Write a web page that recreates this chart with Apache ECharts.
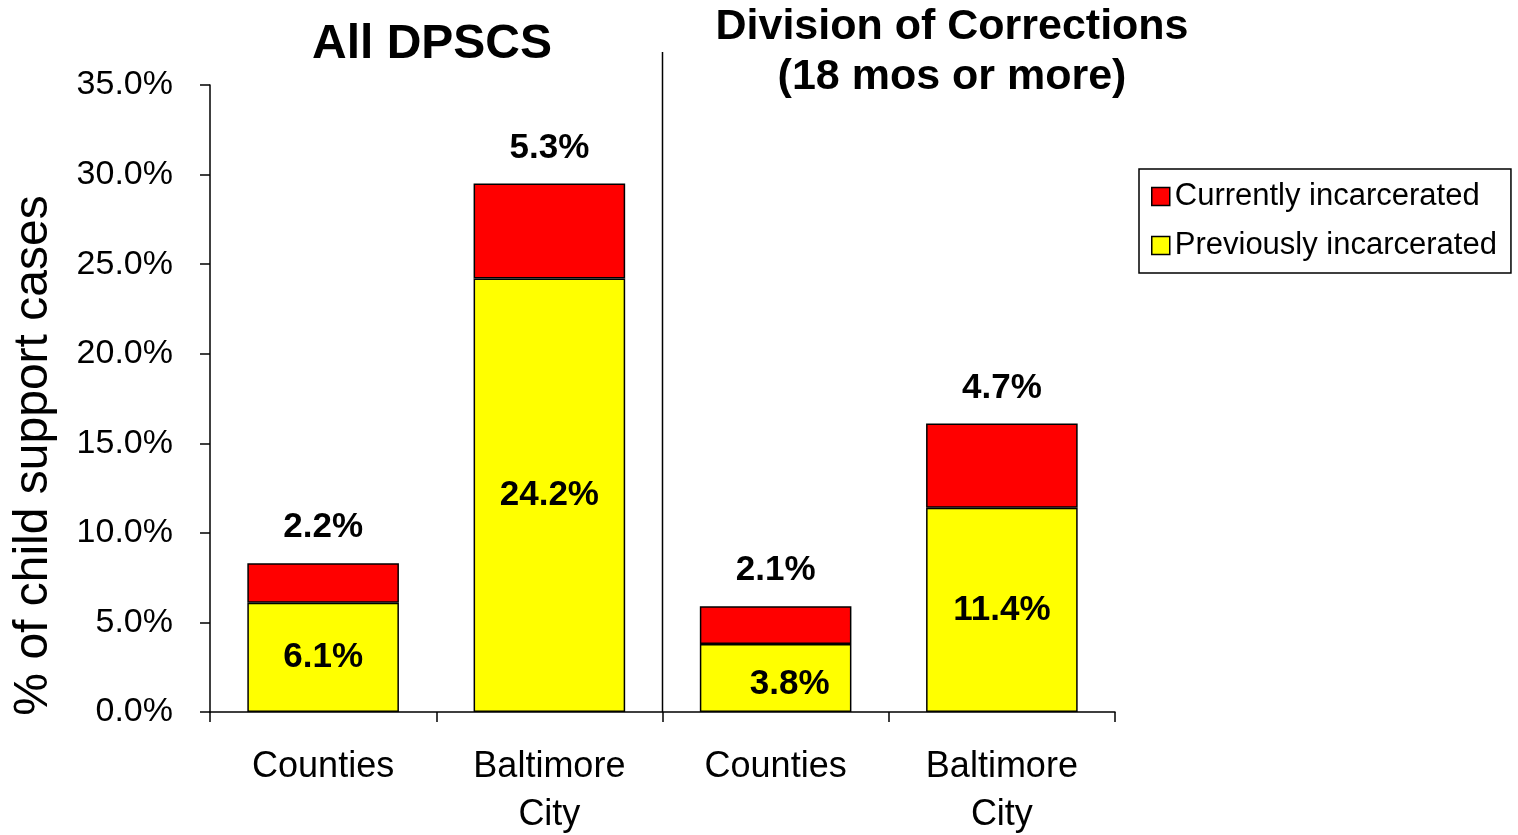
<!DOCTYPE html>
<html>
<head>
<meta charset="utf-8">
<script src="https://cdn.jsdelivr.net/npm/echarts@6/dist/echarts.min.js"></script>
<style>
  html, body { margin: 0; padding: 0; background: #fff; }
  #main { width: 1518px; height: 835px; }
</style>
</head>
<body>
<div id="main"></div>
<script>
// categories (two groups of two)
var categories = ['Counties', 'Baltimore\nCity', 'Counties', 'Baltimore\nCity'];
// % of child support cases
var previouslyIncarcerated = [6.1, 24.2, 3.8, 11.4];
var currentlyIncarcerated = [2.2, 5.3, 2.1, 4.7];
var seriesNames = ['Currently incarcerated', 'Previously incarcerated'];
var groupTitles = ['All DPSCS', 'Division of Corrections\n(18 mos or more)'];
var yMin = 0, yMax = 35, yStep = 5;

var FONT = 'Liberation Sans, Arial, sans-serif';
var chart = echarts.init(document.getElementById('main'));

var option = {
  backgroundColor: '#fff',
  animation: false,
  textStyle: { fontFamily: FONT, color: '#000' },
  grid: { left: 210, right: 403, top: 85, bottom: 123, containLabel: false, outerBoundsMode: 'none' },
  legend: {
    orient: 'vertical',
    left: 1139,
    top: 169,
    data: seriesNames,
    icon: 'rect',
    itemWidth: 18,
    itemHeight: 18,
    itemGap: 18,
    padding: [12, 14, 12, 12],
    borderColor: '#000',
    borderWidth: 1.5,
    itemStyle: { borderColor: '#000', borderWidth: 1.5 },
    textStyle: { fontFamily: FONT, fontSize: 31, color: '#000', lineHeight: 30 }
  },
  xAxis: {
    type: 'category',
    data: categories,
    axisLine: { lineStyle: { color: '#000', width: 1.5 } },
    axisTick: { show: true, interval: 0, length: 10, alignWithLabel: false, lineStyle: { color: '#000', width: 1.5 } },
    axisLabel: { interval: 0, margin: 31, fontFamily: FONT, fontSize: 36, color: '#000', lineHeight: 48 },
    splitLine: { show: false }
  },
  yAxis: {
    type: 'value',
    min: yMin,
    max: yMax,
    interval: yStep,
    name: '% of child support cases',
    nameLocation: 'middle',
    nameGap: 152,
    nameMoveOverlap: false,
    nameTextStyle: { fontFamily: FONT, fontSize: 48, color: '#000', padding: [0, 114, 0, 0] },
    axisLine: { show: true, lineStyle: { color: '#000', width: 1.5 } },
    axisTick: { show: true, length: 10, lineStyle: { color: '#000', width: 1.5 } },
    axisLabel: {
      margin: 37,
      fontFamily: FONT,
      fontSize: 34,
      color: '#000',
      formatter: function (v) { return v.toFixed(1) + '%'; }
    },
    splitLine: { show: false }
  },
  series: [
    {
      name: seriesNames[1],
      type: 'bar',
      stack: 'total',
      barWidth: '67%',
      data: previouslyIncarcerated.map(function (v, i) {
        var d = { value: v };
        if (i === 2) d.label = { offset: [14, 6] };
        return d;
      }),
      itemStyle: { color: '#FFFF00', borderColor: '#000', borderWidth: 1.5 },
      label: {
        show: true,
        position: 'inside',
        fontFamily: FONT,
        fontSize: 35,
        fontWeight: 'bold',
        color: '#000',
        formatter: function (p) { return p.value.toFixed(1) + '%'; }
      }
    },
    {
      name: seriesNames[0],
      type: 'bar',
      stack: 'total',
      barWidth: '67%',
      data: currentlyIncarcerated,
      itemStyle: { color: '#FF0000', borderColor: '#000', borderWidth: 1.5 },
      label: {
        show: true,
        position: 'top',
        distance: 18,
        fontFamily: FONT,
        fontSize: 35,
        fontWeight: 'bold',
        color: '#000',
        formatter: function (p) { return p.value.toFixed(1) + '%'; }
      }
    }
  ]
};

chart.setOption(option);

// divider between the two groups and group titles
var xa = chart.convertToPixel({ xAxisIndex: 0 }, 1);
var xb = chart.convertToPixel({ xAxisIndex: 0 }, 2);
var y0 = chart.convertToPixel({ yAxisIndex: 0 }, 0);
var xMid = (xa + xb) / 2;

chart.setOption({
  graphic: [
    {
      type: 'line',
      shape: { x1: xMid, y1: 52, x2: xMid, y2: y0 },
      style: { stroke: '#000', lineWidth: 1.5 },
      silent: true
    },
    {
      type: 'text',
      x: 432,
      y: 45,
      style: {
        text: groupTitles[0],
        font: 'bold 48px ' + FONT,
        fill: '#000',
        textAlign: 'center',
        textVerticalAlign: 'middle'
      }
    },
    {
      type: 'text',
      x: 952,
      y: 52,
      style: {
        text: groupTitles[1],
        font: 'bold 43px ' + FONT,
        lineHeight: 50,
        fill: '#000',
        textAlign: 'center',
        textVerticalAlign: 'middle'
      }
    }
  ]
});
</script>
</body>
</html>
